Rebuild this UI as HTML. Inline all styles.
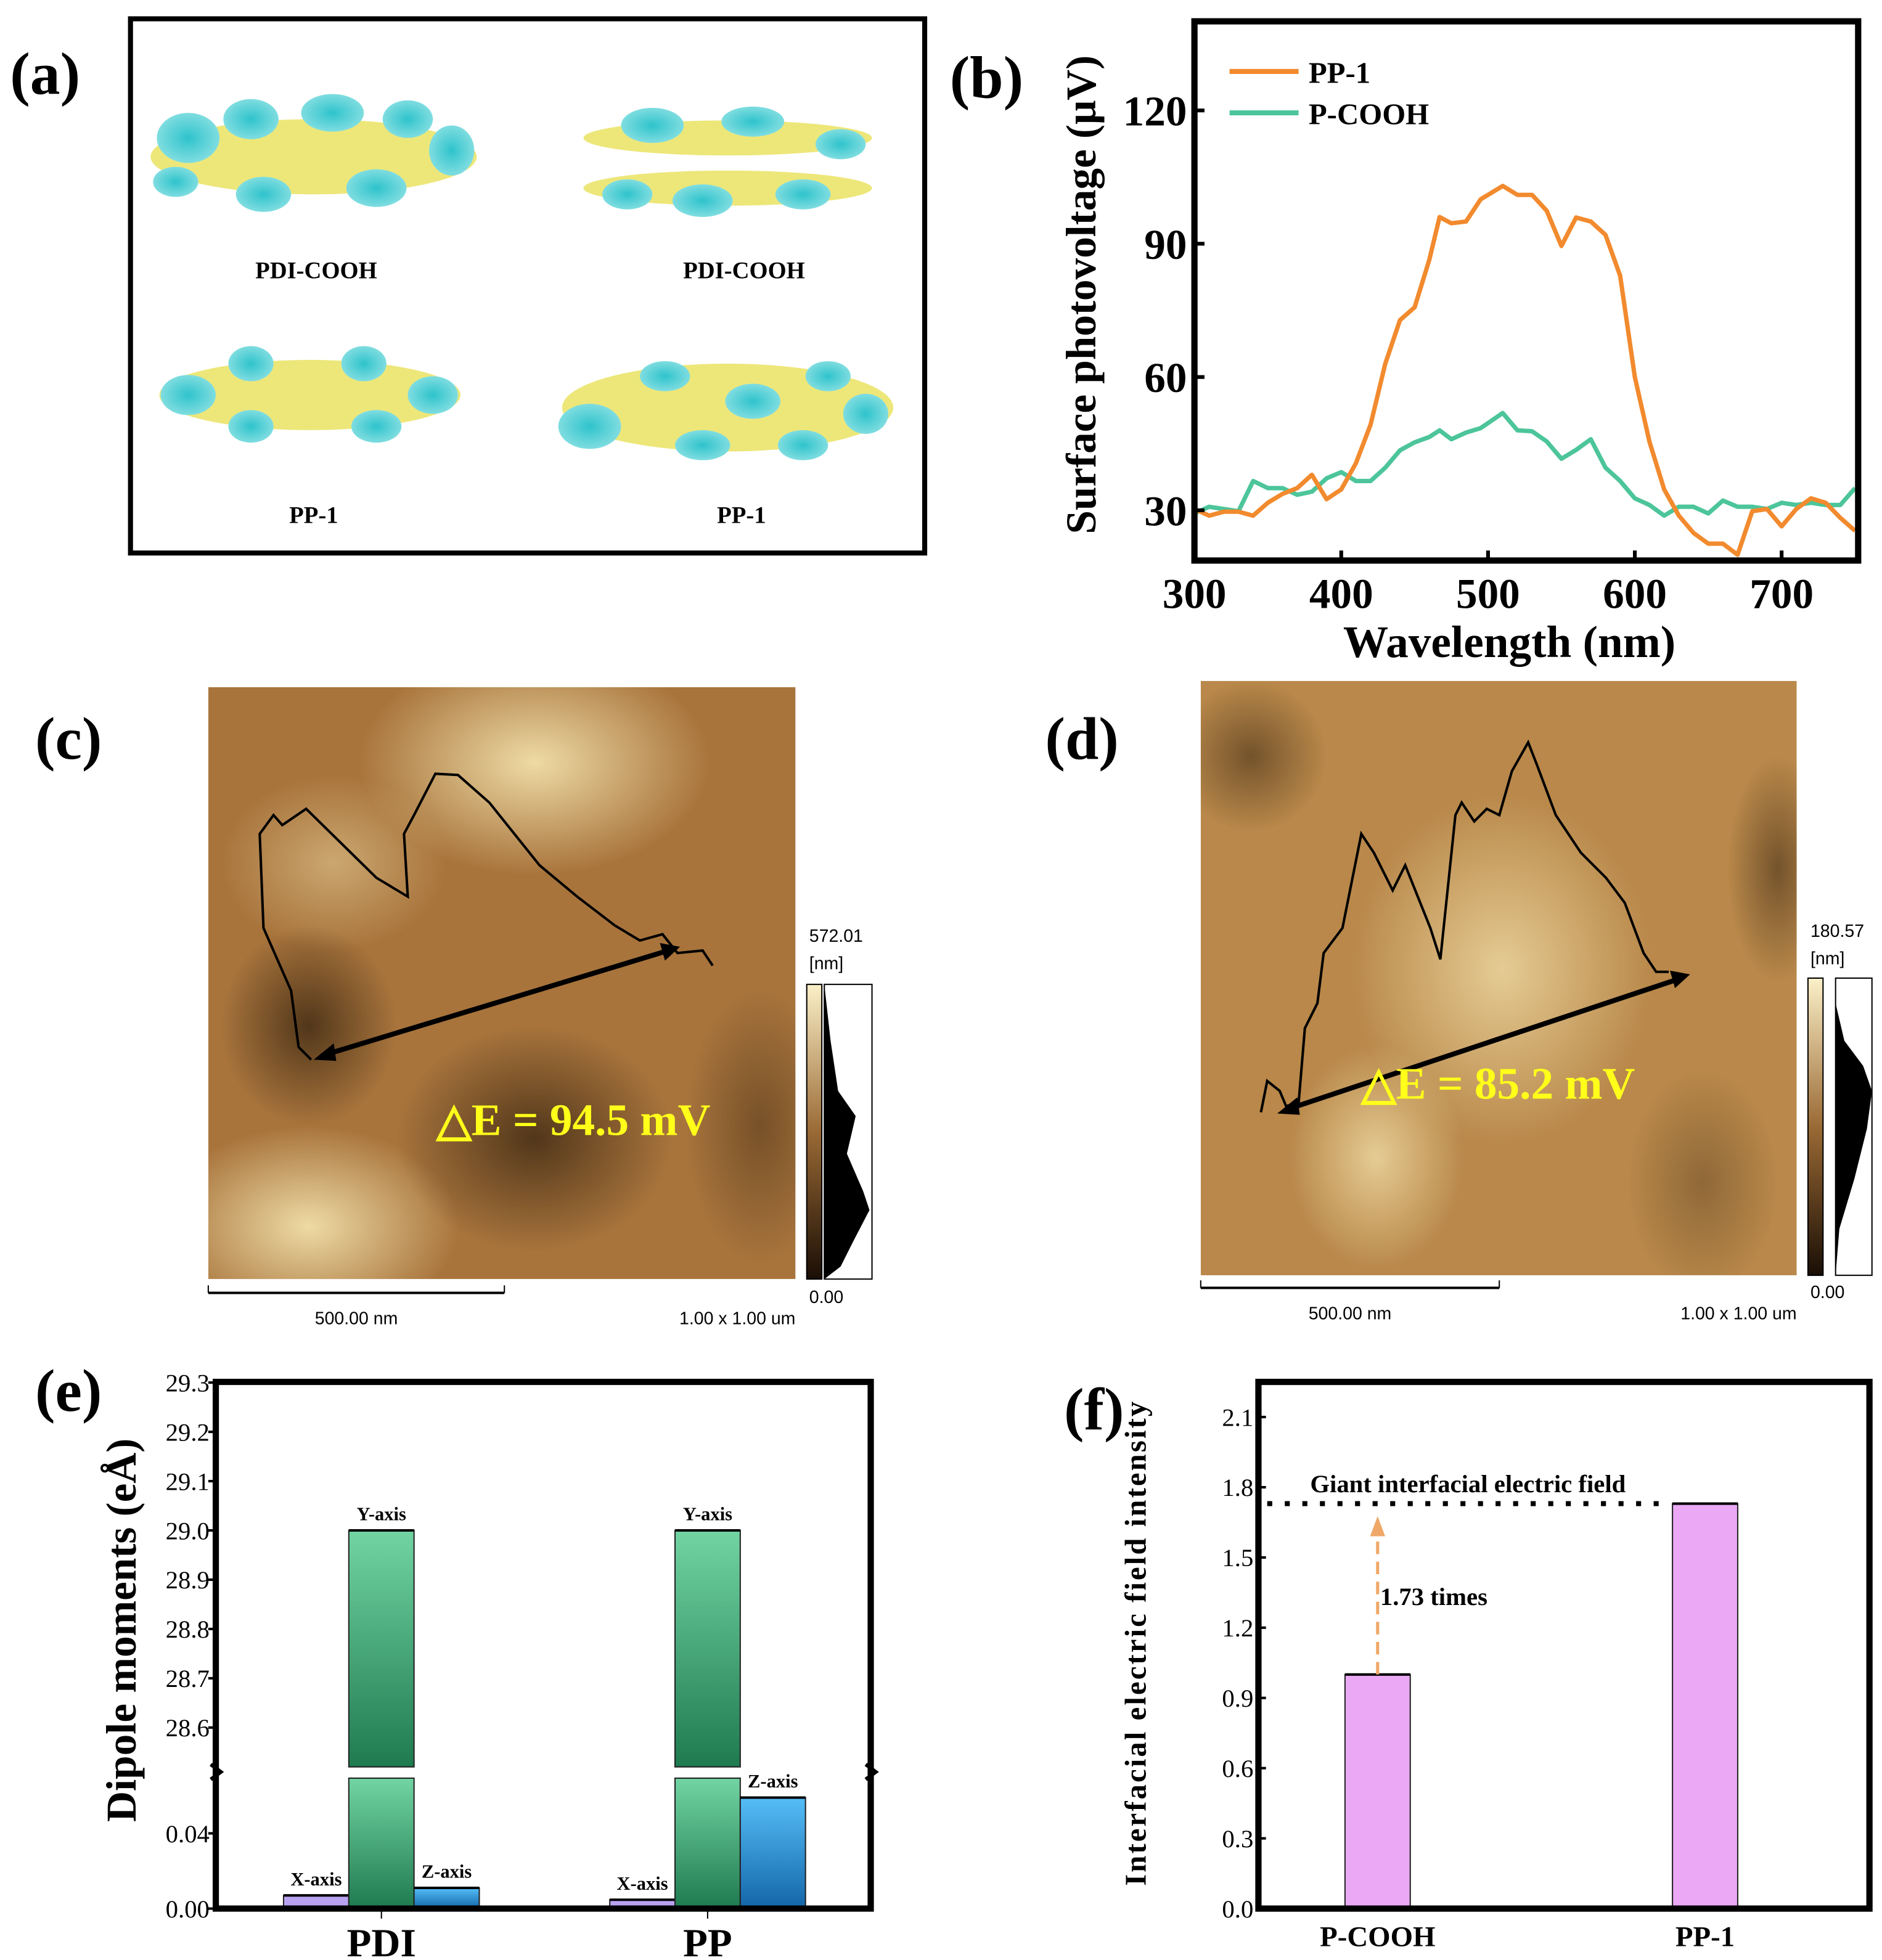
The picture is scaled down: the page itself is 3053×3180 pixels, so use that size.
<!DOCTYPE html>
<html><head><meta charset="utf-8"><style>
html,body{margin:0;padding:0;background:#fff}
svg{display:block}
text{font-family:"Liberation Serif",serif}
</style></head><body>
<svg id="fig" width="3053" height="3180" viewBox="0 0 1500 1563" preserveAspectRatio="none" xmlns="http://www.w3.org/2000/svg">
<defs>
<linearGradient id="ygrad" x1="0" y1="0" x2="0" y2="1"><stop offset="0" stop-color="#72d4a2"/><stop offset="1" stop-color="#1f7a50"/></linearGradient>
<linearGradient id="zgrad" x1="0" y1="0" x2="0" y2="1"><stop offset="0" stop-color="#55bdf7"/><stop offset="1" stop-color="#1366a8"/></linearGradient>
<linearGradient id="cbar" x1="0" y1="1" x2="0" y2="0"><stop offset="0" stop-color="#1a0e05"/><stop offset="0.5" stop-color="#9a6a35"/><stop offset="1" stop-color="#fbf0c8"/></linearGradient>
<radialGradient id="lt" cx="0.5" cy="0.5" r="0.5"><stop offset="0" stop-color="#f6e6b0" stop-opacity="0.9"/><stop offset="1" stop-color="#f6e6b0" stop-opacity="0"/></radialGradient>
<radialGradient id="dk" cx="0.5" cy="0.5" r="0.5"><stop offset="0" stop-color="#1e1206" stop-opacity="0.9"/><stop offset="1" stop-color="#1e1206" stop-opacity="0"/></radialGradient>
<radialGradient id="cy" cx="0.5" cy="0.5" r="0.5"><stop offset="0" stop-color="#2fc3cc"/><stop offset="1" stop-color="#7fdde0"/></radialGradient>
</defs>

<!-- panel a -->
<g>
<text x="8" y="75" font-size="48" font-weight="bold">(a)</text>
<rect x="104" y="15" width="633" height="426" fill="#fff" stroke="#000" stroke-width="4"/>
<g>
<ellipse cx="250" cy="125" rx="130" ry="30" fill="#ede77a"/>
<ellipse cx="150" cy="110" rx="25" ry="20" fill="url(#cy)"/><ellipse cx="200" cy="95" rx="22" ry="16" fill="url(#cy)"/><ellipse cx="265" cy="90" rx="25" ry="15" fill="url(#cy)"/><ellipse cx="325" cy="95" rx="20" ry="15" fill="url(#cy)"/><ellipse cx="360" cy="120" rx="18" ry="20" fill="url(#cy)"/><ellipse cx="300" cy="150" rx="24" ry="15" fill="url(#cy)"/><ellipse cx="210" cy="155" rx="22" ry="14" fill="url(#cy)"/><ellipse cx="140" cy="145" rx="18" ry="12" fill="url(#cy)"/>
</g>
<text x="252" y="222" font-size="19" font-weight="bold" text-anchor="middle">PDI-COOH</text>
<g>
<ellipse cx="580" cy="110" rx="115" ry="14" fill="#ede77a"/><ellipse cx="580" cy="150" rx="115" ry="14" fill="#ede77a"/>
<ellipse cx="520" cy="100" rx="25" ry="14" fill="url(#cy)"/><ellipse cx="600" cy="97" rx="25" ry="12" fill="url(#cy)"/><ellipse cx="670" cy="115" rx="20" ry="12" fill="url(#cy)"/><ellipse cx="500" cy="155" rx="20" ry="12" fill="url(#cy)"/><ellipse cx="560" cy="160" rx="24" ry="13" fill="url(#cy)"/><ellipse cx="640" cy="155" rx="22" ry="12" fill="url(#cy)"/>
</g>
<text x="593" y="222" font-size="19" font-weight="bold" text-anchor="middle">PDI-COOH</text>
<g>
<ellipse cx="247" cy="315" rx="120" ry="28" fill="#ede77a"/>
<ellipse cx="150" cy="315" rx="22" ry="16" fill="url(#cy)"/><ellipse cx="200" cy="290" rx="18" ry="14" fill="url(#cy)"/><ellipse cx="290" cy="290" rx="18" ry="14" fill="url(#cy)"/><ellipse cx="345" cy="315" rx="20" ry="15" fill="url(#cy)"/><ellipse cx="200" cy="340" rx="18" ry="13" fill="url(#cy)"/><ellipse cx="300" cy="340" rx="20" ry="13" fill="url(#cy)"/>
</g>
<text x="250" y="417" font-size="19" font-weight="bold" text-anchor="middle">PP-1</text>
<g>
<ellipse cx="580" cy="325" rx="132" ry="35" fill="#ede77a"/>
<ellipse cx="470" cy="340" rx="25" ry="18" fill="url(#cy)"/><ellipse cx="530" cy="300" rx="20" ry="12" fill="url(#cy)"/><ellipse cx="600" cy="320" rx="22" ry="14" fill="url(#cy)"/><ellipse cx="660" cy="300" rx="18" ry="12" fill="url(#cy)"/><ellipse cx="690" cy="330" rx="18" ry="16" fill="url(#cy)"/><ellipse cx="560" cy="355" rx="22" ry="12" fill="url(#cy)"/><ellipse cx="640" cy="355" rx="20" ry="12" fill="url(#cy)"/>
</g>
<text x="591" y="417" font-size="19" font-weight="bold" text-anchor="middle">PP-1</text>
</g>

<!-- panel b -->
<g id="pb">
<text x="757" y="78" font-size="48" font-weight="bold">(b)</text>
<text transform="translate(873,235) rotate(-90)" font-size="34" font-weight="bold" text-anchor="middle">Surface photovoltage (μV)</text>
<text x="1203" y="524" font-size="36" font-weight="bold" text-anchor="middle">Wavelength (nm)</text>
<line x1="980" y1="57" x2="1035" y2="57" stroke="#f28a2e" stroke-width="4"/>
<text x="1043" y="66" font-size="24" font-weight="bold">PP-1</text>
<line x1="980" y1="90" x2="1035" y2="90" stroke="#4cc59a" stroke-width="4"/>
<text x="1043" y="99" font-size="24" font-weight="bold">P-COOH</text>
</g>

<!-- panel c -->
<g>
<text x="28" y="605" font-size="48" font-weight="bold">(c)</text>
<svg x="166" y="548" width="468" height="472">
<rect width="468" height="472" fill="#a8743c"/>
<ellipse cx="260" cy="60" rx="140" ry="90" fill="url(#lt)"/>
<ellipse cx="100" cy="140" rx="90" ry="70" fill="url(#lt)" opacity="0.5"/>
<ellipse cx="80" cy="430" rx="120" ry="80" fill="url(#lt)"/>
<ellipse cx="80" cy="270" rx="70" ry="80" fill="url(#dk)" opacity="0.7"/>
<ellipse cx="260" cy="360" rx="110" ry="90" fill="url(#dk)" opacity="0.7"/>
<ellipse cx="440" cy="350" rx="60" ry="110" fill="url(#dk)" opacity="0.4"/>
</svg>
<polyline fill="none" stroke="#000" stroke-width="2" points="248,845 238,835 232,790 210,740 207,665 218,650 225,658 244,645 300,700 325,715 322,665 330,650 347,617 365,618 390,640 430,690 460,715 490,738 510,750 528,745 540,760 560,758 568,770"/>
<line x1="256" y1="842" x2="536" y2="757" stroke="#000" stroke-width="4"/>
<polygon points="250,845 266,832 268,846" fill="#000"/><polygon points="542,755 526,752 530,766" fill="#000"/>
<text x="348" y="905" font-size="36" font-weight="bold" fill="#ffff1a">△E = 94.5 mV</text>
<rect x="643" y="785" width="12" height="235" fill="url(#cbar)" stroke="#000" stroke-width="1"/>
<rect x="657" y="785" width="38" height="235" fill="#fff" stroke="#000" stroke-width="1"/>
<path d="M657,785 L662,830 L668,870 L682,890 L675,920 L688,950 L693,965 L680,990 L670,1010 L657,1020 Z" fill="#000"/>
<text x="645" y="751" font-size="14" style="font-family:'Liberation Sans',sans-serif">572.01</text>
<text x="645" y="773" font-size="14" style="font-family:'Liberation Sans',sans-serif">[nm]</text>
<text x="645" y="1039" font-size="14" style="font-family:'Liberation Sans',sans-serif">0.00</text>
<line x1="166" y1="1031" x2="402" y2="1031" stroke="#000" stroke-width="2"/>
<line x1="166" y1="1025" x2="166" y2="1031" stroke="#000"/><line x1="402" y1="1025" x2="402" y2="1031" stroke="#000"/>
<text x="284" y="1056" font-size="14" text-anchor="middle" style="font-family:'Liberation Sans',sans-serif">500.00 nm</text>
<text x="634" y="1056" font-size="14" text-anchor="end" style="font-family:'Liberation Sans',sans-serif">1.00 x 1.00 um</text>
</g>

<!-- panel d -->
<g>
<text x="833" y="605" font-size="48" font-weight="bold">(d)</text>
<svg x="957" y="543" width="475" height="474">
<rect width="475" height="474" fill="#b9884a"/>
<ellipse cx="240" cy="230" rx="120" ry="140" fill="url(#lt)" opacity="0.8"/>
<ellipse cx="140" cy="380" rx="70" ry="90" fill="url(#lt)" opacity="0.8"/>
<ellipse cx="40" cy="60" rx="60" ry="60" fill="url(#dk)" opacity="0.5"/>
<ellipse cx="460" cy="150" rx="40" ry="90" fill="url(#dk)" opacity="0.5"/>
<ellipse cx="400" cy="400" rx="60" ry="90" fill="url(#dk)" opacity="0.3"/>
</svg>
<polyline fill="none" stroke="#000" stroke-width="2" points="1005,887 1010,862 1020,870 1025,882 1035,880 1040,820 1050,800 1055,760 1070,740 1085,665 1095,680 1110,710 1120,690 1140,740 1148,765 1160,650 1165,640 1175,655 1185,645 1195,650 1205,615 1218,592 1225,610 1240,650 1260,680 1280,700 1295,720 1310,760 1320,775 1330,775"/>
<line x1="1025" y1="885" x2="1340" y2="780" stroke="#000" stroke-width="4"/>
<polygon points="1018,888 1034,875 1036,889" fill="#000"/><polygon points="1347,777 1331,774 1335,788" fill="#000"/>
<text x="1085" y="876" font-size="36" font-weight="bold" fill="#ffff1a">△E = 85.2 mV</text>
<rect x="1441" y="780" width="12" height="237" fill="url(#cbar)" stroke="#000" stroke-width="1"/>
<rect x="1463" y="780" width="29" height="237" fill="#fff" stroke="#000" stroke-width="1"/>
<path d="M1463,800 L1470,830 L1485,850 L1492,870 L1488,900 L1478,940 L1466,980 L1463,1017 Z" fill="#000"/>
<text x="1443" y="747" font-size="14" style="font-family:'Liberation Sans',sans-serif">180.57</text>
<text x="1443" y="769" font-size="14" style="font-family:'Liberation Sans',sans-serif">[nm]</text>
<text x="1443" y="1035" font-size="14" style="font-family:'Liberation Sans',sans-serif">0.00</text>
<line x1="957" y1="1027" x2="1195" y2="1027" stroke="#000" stroke-width="2"/>
<line x1="957" y1="1021" x2="957" y2="1027" stroke="#000"/><line x1="1195" y1="1021" x2="1195" y2="1027" stroke="#000"/>
<text x="1076" y="1052" font-size="14" text-anchor="middle" style="font-family:'Liberation Sans',sans-serif">500.00 nm</text>
<text x="1432" y="1052" font-size="14" text-anchor="end" style="font-family:'Liberation Sans',sans-serif">1.00 x 1.00 um</text>
</g>

<!-- panel e -->
<g id="pe">
<text x="28" y="1125" font-size="48" font-weight="bold">(e)</text>
<text transform="translate(108,1300) rotate(-90)" font-size="34" font-weight="bold" text-anchor="middle">Dipole moments (eÅ)</text>
</g>

<!-- panel f -->
<g id="pf">
<text x="848" y="1140" font-size="48" font-weight="bold">(f)</text>
<text transform="translate(913,1310) rotate(-90)" font-size="24" font-weight="bold" letter-spacing="1.5" text-anchor="middle">Interfacial electric field intensity</text>
</g>
</svg>
<script>
const NS="http://www.w3.org/2000/svg";
// ---- panel b data ----
const wavelengths=[300,310,320,330,340,350,360,370,380,390,400,410,420,430,440,450,460,467,475,485,495,510,520,530,540,550,560,570,580,590,600,610,620,630,640,650,660,670,680,690,700,710,720,730,740,750];
const spvPP1=[30.3,28.8,29.7,29.7,28.8,31.7,33.7,35,38,32.5,34.7,40.6,49.3,63,72.8,75.7,86.4,96,94.6,95,100,103,101,101,97.4,89.5,95.9,95,92,82.8,60,45.4,34.7,28.8,24.9,22.5,22.5,20,29.8,30.3,26.4,30.3,32.7,31.7,28.3,25.4];
const spvPCOOH=[29.3,30.8,30.3,29.8,36.6,35,35,33.5,34.2,37.2,38.6,36.6,36.6,39.6,43.5,45.3,46.5,48,46,47.5,48.5,51.9,48,47.8,45.5,41.6,43.6,46,39.6,36.6,32.7,31.2,28.8,30.8,30.8,29.3,32.2,30.8,30.8,30.3,31.7,31.2,31.7,31.2,31.2,35];
const bXTicks=[300,400,500,600,700];
const bYTicks=[30,60,90,120];
// ---- panel e data ----
const eCategories=["PDI","PP"];
const eXAxis=[0.007,0.0047];
const eYAxis=[29.0,29.0];
const eZAxis=[0.011,0.059];
const eLowTicks=["0.00","0.04"];
const eHighTicks=["28.6","28.7","28.8","28.9","29.0","29.1","29.2","29.3"];
// ---- panel f data ----
const fCategories=["P-COOH","PP-1"];
const fValues=[1.0,1.73];
const fTicks=["0.0","0.3","0.6","0.9","1.2","1.5","1.8","2.1"];

function mk(tag,attrs,parent,txt){const e=document.createElementNS(NS,tag);for(const k in attrs)e.setAttribute(k,attrs[k]);if(txt!==undefined)e.textContent=txt;parent.appendChild(e);return e;}

// panel b
(function(){
const g=document.getElementById('pb');
const L=952,R=1481,T=17,B=447;
const x=v=>L+(v-300)*(117/100);
const y=v=>B-(v-18.7)*(106.3/30);
const clip=mk('clipPath',{id:'bclip'},g);mk('rect',{x:L,y:T,width:R-L,height:B-T},clip);
function line(data,color,name){
 const p=mk('polyline',{points:data.map((v,i)=>x(wavelengths[i])+','+y(v)).join(' '),fill:'none',stroke:color,'stroke-width':3.5,'stroke-linejoin':'round','clip-path':'url(#bclip)'},g);
 
 
}
line(spvPCOOH,'#4cc59a','series-p-cooh');
line(spvPP1,'#f28a2e','series-pp1');
const fr=mk('rect',{x:L,y:T,width:R-L,height:B-T,fill:'none',stroke:'#000','stroke-width':5},g);


bXTicks.forEach(v=>{mk('line',{x1:x(v),y1:B,x2:x(v),y2:B-8,stroke:'#000','stroke-width':3},g);
 const t=mk('text',{x:x(v),y:B+38,'font-size':34,'font-weight':'bold','text-anchor':'middle'},g,String(v));
 
 });
bYTicks.forEach(v=>{mk('line',{x1:L,y1:y(v),x2:L+8,y2:y(v),stroke:'#000','stroke-width':3},g);
 const t=mk('text',{x:L-6,y:y(v)+12,'font-size':34,'font-weight':'bold','text-anchor':'end'},g,String(v));
 
 });
})();

// panel e
(function(){
const g=document.getElementById('pe');
const L=172,R=694,T=1102,B=1522,BRK=1413;
const yl=v=>B-v*1500;
const yh=v=>BRK-(v-28.51)*393;
const val=v=>v>1?yh(v):yl(v);
const cx=[304,564],w=52;
const series=[[eXAxis,'#b8a2f0','X-axis',-1],[eYAxis,'url(#ygrad)','Y-axis',0],[eZAxis,'url(#zgrad)','Z-axis',1]];
eCategories.forEach((c,i)=>{
 series.forEach(([arr,fill,lab,off])=>{
  const x0=cx[i]+off*w-w/2, top=val(arr[i]);
  if(arr[i]>1){
   const r1=mk('rect',{x:x0,y:top,width:w,height:BRK-4-top,fill:fill,stroke:'#222','stroke-width':1},g);
   
   
   const r2=mk('rect',{x:x0,y:BRK+5,width:w,height:B-BRK-5,fill:fill,stroke:'#222','stroke-width':1},g);
   
   
  } else {
   const r=mk('rect',{x:x0,y:top,width:w,height:B-top,fill:fill,stroke:'#222','stroke-width':1},g);
   
   
  }
  mk('line',{x1:x0,y1:top,x2:x0+w,y2:top,stroke:'#000','stroke-width':2},g);
  const t=mk('text',{x:x0+w/2,y:top-8,'font-size':15,'font-weight':'bold','text-anchor':'middle'},g,lab);
  
  
 });
 const t=mk('text',{x:cx[i],y:1560,'font-size':32,'font-weight':'bold','text-anchor':'middle'},g,c);
 
 
 mk('line',{x1:cx[i],y1:B,x2:cx[i],y2:B+8,stroke:'#000','stroke-width':1},g);
});
const fr=mk('path',{d:`M${L},${T} H${R} V${B} H${L} Z`,fill:'none',stroke:'#000','stroke-width':5},g);


mk('path',{d:`M${L-4},${BRK-6} l8,6 l-8,6 M${R-4},${BRK-6} l8,6 l-8,6`,stroke:'#000','stroke-width':3,fill:'none'},g);
eLowTicks.forEach(s=>{const v=+s;mk('line',{x1:L-6,y1:yl(v),x2:L,y2:yl(v),stroke:'#000','stroke-width':2},g);
 const t=mk('text',{x:L-5,y:yl(v)+7,'font-size':20,'text-anchor':'end'},g,s);
 
 });
eHighTicks.forEach(s=>{const v=+s;mk('line',{x1:L-6,y1:yh(v),x2:L,y2:yh(v),stroke:'#000','stroke-width':2},g);
 const t=mk('text',{x:L-5,y:yh(v)+7,'font-size':20,'text-anchor':'end'},g,s);
 
 });
})();

// panel f
(function(){
const g=document.getElementById('pf');
const L=1003,R=1490,T=1102,B=1522;
const y=v=>B-v*(56/0.3);
const cx=[1098,1359],w=52;
fCategories.forEach((c,i)=>{
 const top=y(fValues[i]);
 const r=mk('rect',{x:cx[i]-w/2,y:top,width:w,height:B-top,fill:'#eaa8f5',stroke:'#222','stroke-width':1},g);
 
 
 mk('line',{x1:cx[i]-w/2,y1:top,x2:cx[i]+w/2,y2:top,stroke:'#000','stroke-width':2},g);
 const t=mk('text',{x:cx[i],y:1552,'font-size':23,'font-weight':'bold','text-anchor':'middle'},g,c);
 
 
});
const fr=mk('rect',{x:L,y:T,width:R-L,height:B-T,fill:'none',stroke:'#000','stroke-width':5},g);


fTicks.forEach(s=>{const v=+s;mk('line',{x1:L,y1:y(v),x2:L+6,y2:y(v),stroke:'#000','stroke-width':2},g);
 const t=mk('text',{x:L-4,y:y(v)+7,'font-size':20,'text-anchor':'end'},g,s);
 
 });
const yt=y(fValues[1]);
const dl=mk('line',{x1:1010,y1:yt,x2:1325,y2:yt,stroke:'#000','stroke-width':4,'stroke-dasharray':'4,10'},g);


const ar=mk('line',{x1:cx[0],y1:y(fValues[0]),x2:cx[0],y2:yt+20,stroke:'#f0a868','stroke-width':2.5,'stroke-dasharray':'10,6'},g);


mk('polygon',{points:`${cx[0]-6},${yt+26} ${cx[0]+6},${yt+26} ${cx[0]},${yt+10}`,fill:'#f0a868'},g);
const t1=mk('text',{x:1170,y:yt-9,'font-size':20,'font-weight':'bold','text-anchor':'middle'},g,'Giant interfacial electric field');


const t2=mk('text',{x:1100,y:1280,'font-size':20,'font-weight':'bold'},g,(fValues[1]/fValues[0]).toFixed(2)+' times');


})();
</script>
</body></html>
